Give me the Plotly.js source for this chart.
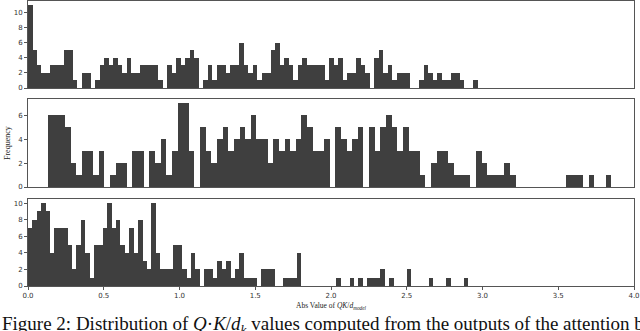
<!DOCTYPE html>
<html>
<head>
<meta charset="utf-8">
<script src="https://cdn.plot.ly/plotly-3.0.1.min.js"></script>
<style>html,body{margin:0;padding:0;background:#fff;}#chart{width:640px;height:331px;}</style>
</head>
<body>
<div id="chart"></div>
<script>
// Histogram counts (100 bins each)
const topCounts = [11,5,3,2,2,3,3,3,5,5, 1,0,2,2,0,1,3,4,3,4, 3,2,4,2,2,3,3,3,3,1, 0,3,2,4,3,4,5,4,0,1,
  3,1,3,3,2,3,3,6,3,2, 3,1,2,2,5,6,3,4,3,1, 3,4,3,3,3,3,1,4,3,4, 1,2,2,4,3,2,0,4,5,2,
  3,1,2,2,2,0,0,1,3,2, 1,2,1,1,2,2,1,0,0,1];
const midCounts = [6,6,6,5,2,1,3,3,1,3, 0,1,2,2,0,3,3,0,3,2, 4,1,3,7,7,3,0,5,3,2,
  4,5,3,4,5,4,6,4,4,2, 4,3,4,3,4,6,5,3,3,4, 0,5,4,3,4,5,0,5,3,5, 6,5,3,5,3,3,1,0,2,3,
  3,2,1,1,1,0,3,2,1,1, 1,2,1,0,0,0,0,0,0,0, 0,0,1,1,1,0,1,0,0,1];
const botCounts = [7,8,9,10,9,4,7,7,7,5, 2,5,8,4,1,5,5,7,10,7, 8,5,4,7,4,8,3,2,10,4,
  2,2,2,5,5,2,1,4,2,0, 2,2,1,3,2,3,1,2,4,1, 1,1,0,2,2,2,0,0,1,1, 1,4,0,0,0,0,0,0,0,0,
  1,0,0,1,0,1,0,1,1,1, 2,0,1,0,0,0,2,0,0,0, 0,1,0,0,0,1,0,0,0,1];
// Histogram data ranges [min, max]
const topRange = [0.0, 2.967];
const midRange = [0.132, 3.850];
const botRange = [0.0, 2.907];
const xTickVals = [0, 0.5, 1.0, 1.5, 2.0, 2.5, 3.0, 3.5, 4.0];

function binTrace(counts, range, xa, ya) {
  const n = counts.length;
  const w = (range[1] - range[0]) / n;
  const xs = counts.map((_, i) => range[0] + (i + 0.5) * w);
  return {type: 'bar', x: xs, y: counts, width: w, xaxis: xa, yaxis: ya,
    marker: {color: '#3f3f3f', line: {width: 0}}, hoverinfo: 'x+y', showlegend: false};
}

const data = [
  binTrace(topCounts, topRange, 'x', 'y'),
  binTrace(midCounts, midRange, 'x2', 'y2'),
  binTrace(botCounts, botRange, 'x3', 'y3')
];

const H = 285, PW = 606;
const py = p => (286 - p) / H;
const px = p => (p - 28) / PW;
const tickFont = {family: 'DejaVu Sans', size: 7, color: '#333'};

function xax(anchor, show) {
  return {anchor: anchor, domain: [0, 1], range: [0, 4], showgrid: false, zeroline: false,
    showline: true, mirror: true, linecolor: '#555', linewidth: 1,
    ticks: show ? 'outside' : '', ticklen: 3, tickcolor: '#555',
    showticklabels: show, tickvals: xTickVals, tickformat: '.1f', tickfont: tickFont};
}
function yax(anchor, dom, rng, dt) {
  return {anchor: anchor, domain: dom, range: rng, showgrid: false, zeroline: false,
    showline: true, mirror: true, linecolor: '#555', linewidth: 1,
    ticks: 'outside', ticklen: 3, tickcolor: '#555', dtick: dt, tick0: 0,
    tickfont: tickFont};
}

const layout = {
  width: 640, height: 331,
  margin: {l: 28, r: 6, t: 1, b: 45},
  paper_bgcolor: '#fff', plot_bgcolor: '#fff',
  bargap: 0,
  xaxis: xax('y', false),
  xaxis2: xax('y2', false),
  xaxis3: xax('y3', true),
  yaxis: yax('x', [py(88), 1], [0, 11.55], 2),
  yaxis2: yax('x2', [py(187), py(99)], [0, 7.35], 2),
  yaxis3: yax('x3', [0, py(199)], [0, 10.5], 2),
  annotations: [
    {text: 'Frequency', textangle: -90, xref: 'paper', yref: 'paper', x: px(7), y: py(143),
     xanchor: 'center', yanchor: 'middle',
     showarrow: false, font: {family: 'Liberation Serif', size: 8, color: '#222'}},
    {text: 'Abs Value of <i>QK</i>/<i>d</i><sub><i>model</i></sub>', xref: 'paper', yref: 'paper',
     x: px(331), y: py(306), xanchor: 'center', yanchor: 'middle',
     showarrow: false, font: {family: 'Liberation Serif', size: 7.5, color: '#222'}},
    {text: 'Figure 2: Distribution of <i>Q</i>·<i>K</i>/<i>d<sub>k</sub></i> values computed from the outputs of the attention block for all layers, and',
     xref: 'paper', yref: 'paper', x: px(0), y: py(311), xanchor: 'left', yanchor: 'top',
     showarrow: false, font: {family: 'Liberation Serif', size: 19, color: '#111'}}
  ]
};

Plotly.newPlot('chart', data, layout, {displayModeBar: false, staticPlot: true});
</script>
</body>
</html>
